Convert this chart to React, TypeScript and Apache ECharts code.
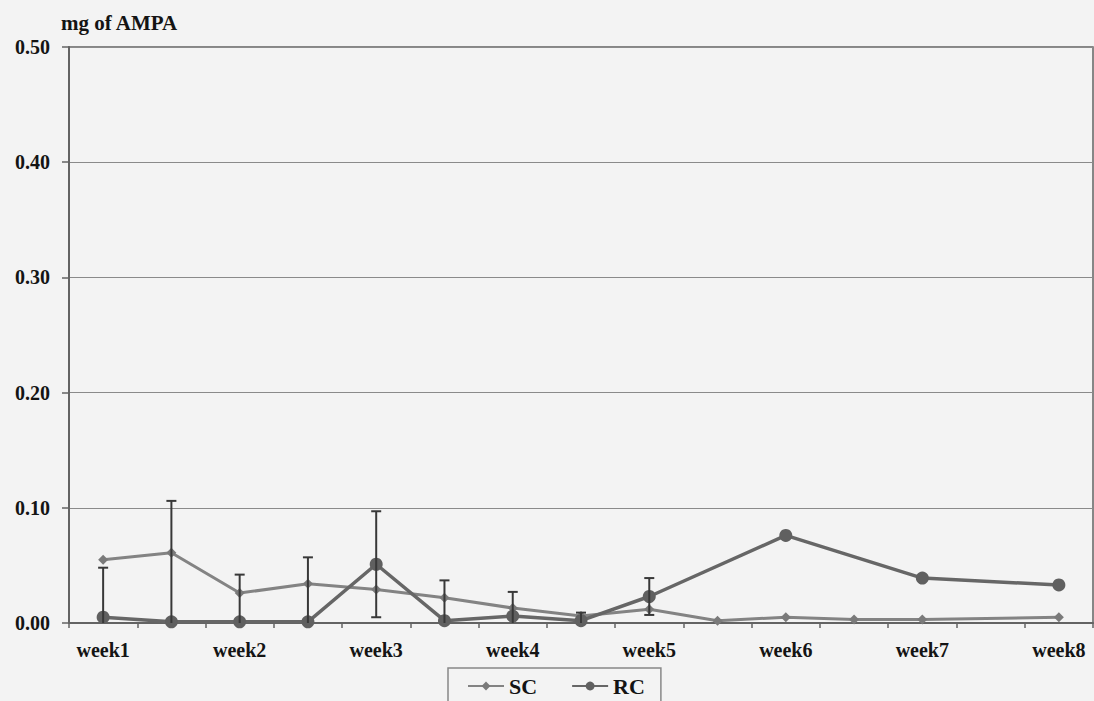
import React, { useEffect, useRef } from "react";
import * as echarts from "echarts";

// Sampling slots: each week plus a mid-week sample in between
const categories = [
  "week1", "", "week2", "", "week3", "", "week4", "",
  "week5", "", "week6", "", "week7", "", "week8",
];

// Mean AMPA (mg) per sampling slot
const scValues = [
  0.055, 0.061, 0.026, 0.034, 0.029, 0.022, 0.013, 0.006,
  0.012, 0.002, 0.005, 0.003, 0.003, null, 0.005,
];
const rcValues = [
  0.005, 0.001, 0.001, 0.001, 0.051, 0.002, 0.006, 0.002,
  0.023, null, 0.076, null, 0.039, null, 0.033,
];
// Standard deviation for RC samples
const rcErrors = [
  0.043, 0.105, 0.041, 0.056, 0.046, 0.035, 0.021, 0.007,
  0.016, null, null, null, null, null, null,
];

const yTicks = [0, 0.1, 0.2, 0.3, 0.4, 0.5];

const FONT = "Liberation Serif";
const BG = "#f3f3f3";
const SC_COLOR = "#838383";
const RC_COLOR = "#666666";
const ERR_COLOR = "#383838";
const AXIS_COLOR = "#636363";
const TEXT_COLOR = "#141414";

export default function App() {
  const ref = useRef<HTMLDivElement>(null);

  useEffect(() => {
    if (!ref.current) return;
    const chart = echarts.init(ref.current, null, { renderer: "svg" });

    const errData = rcErrors
      .map((e, i) => (e == null || rcValues[i] == null ? null : [i, rcValues[i], e]))
      .filter((d) => d !== null);

    chart.setOption({
      animation: false,
      backgroundColor: BG,
      textStyle: { fontFamily: FONT },
      title: {
        text: "mg of AMPA",
        left: 61,
        top: 12,
        padding: 0,
        textStyle: { fontFamily: FONT, fontWeight: "bold", fontSize: 21, color: TEXT_COLOR },
      },
      grid: {
        left: 69,
        right: 1,
        top: 47,
        bottom: 78,
        show: true,
        borderColor: AXIS_COLOR,
        borderWidth: 1.5,
        backgroundColor: "transparent",
        outerBoundsMode: "none",
      },
      legend: {
        data: ["SC", "RC"],
        left: 448,
        top: 668,
        orient: "horizontal",
        itemWidth: 36,
        itemHeight: 11,
        itemGap: 34,
        padding: [7, 16, 20, 19],
        borderColor: "#888888",
        borderWidth: 1.5,
        backgroundColor: BG,
        textStyle: { fontFamily: FONT, fontWeight: "bold", fontSize: 22, color: TEXT_COLOR },
      },
      xAxis: {
        type: "category",
        data: categories,
        boundaryGap: true,
        axisLine: { show: true, lineStyle: { color: AXIS_COLOR, width: 2 } },
        axisTick: { show: true, interval: 0, length: 5, lineStyle: { color: AXIS_COLOR, width: 1.5 } },
        axisLabel: {
          interval: 0,
          margin: 17,
          fontFamily: FONT,
          fontWeight: "bold",
          fontSize: 20,
          color: TEXT_COLOR,
        },
        splitLine: { show: false },
      },
      yAxis: {
        type: "value",
        min: yTicks[0],
        max: yTicks[yTicks.length - 1],
        interval: 0.1,
        axisLine: { show: true, lineStyle: { color: AXIS_COLOR, width: 2 } },
        axisTick: { show: true, length: 7, lineStyle: { color: AXIS_COLOR, width: 1.5 } },
        axisLabel: {
          margin: 19,
          fontFamily: FONT,
          fontWeight: "bold",
          fontSize: 20,
          color: TEXT_COLOR,
          formatter: (v: number) => v.toFixed(2),
        },
        splitLine: { show: true, lineStyle: { color: "#8a8a8a", width: 1.2 } },
      },
      series: [
        {
          name: "SC",
          type: "line",
          data: scValues,
          connectNulls: true,
          symbol: "diamond",
          symbolSize: 10,
          lineStyle: { color: SC_COLOR, width: 3 },
          itemStyle: { color: "#7a7a7a" },
          z: 2,
        },
        {
          name: "RC",
          type: "line",
          data: rcValues,
          connectNulls: true,
          symbol: "circle",
          symbolSize: 13,
          lineStyle: { color: RC_COLOR, width: 3.5 },
          itemStyle: { color: "#606060" },
          z: 3,
        },
        {
          name: "RC error",
          type: "custom",
          data: errData,
          z: 4,
          renderItem: (params: any, api: any) => {
            const idx = api.value(0);
            const mean = api.value(1);
            const err = api.value(2);
            const hi = mean + err;
            const lo = Math.max(0, mean - err);
            const top = api.coord([idx, hi]);
            const bot = api.coord([idx, lo]);
            const half = 5;
            const children: any[] = [
              {
                type: "line",
                shape: { x1: top[0], y1: top[1], x2: bot[0], y2: bot[1] },
                style: { stroke: ERR_COLOR, lineWidth: 2 },
              },
              {
                type: "line",
                shape: { x1: top[0] - half, y1: top[1], x2: top[0] + half, y2: top[1] },
                style: { stroke: ERR_COLOR, lineWidth: 2 },
              },
            ];
            if (mean - err >= 0) {
              children.push({
                type: "line",
                shape: { x1: bot[0] - half, y1: bot[1], x2: bot[0] + half, y2: bot[1] },
                style: { stroke: ERR_COLOR, lineWidth: 2 },
              });
            }
            return { type: "group", children };
          },
        },
      ],
    });

    return () => chart.dispose();
  }, []);

  return (
    <div
      ref={ref}
      style={{ position: "fixed", left: 0, top: 0, width: 1094, height: 701 }}
    />
  );
}
